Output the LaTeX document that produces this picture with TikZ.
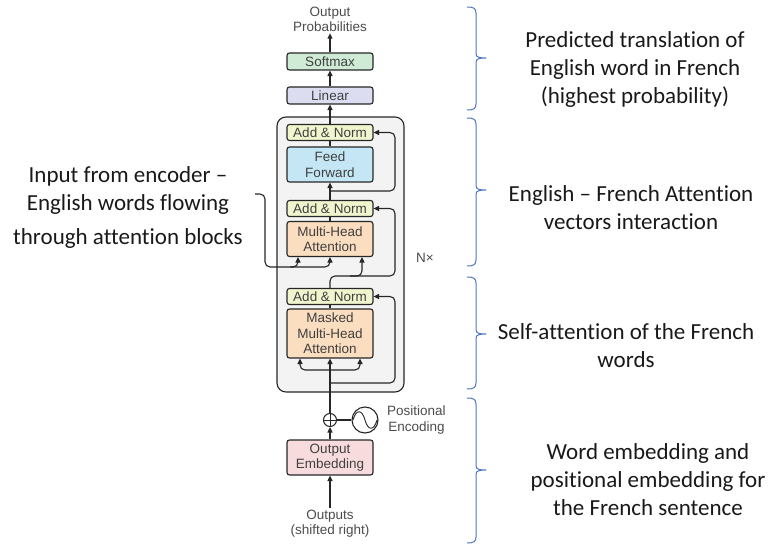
\documentclass[tikz,border=0pt]{standalone}
\usepackage{fontspec}
\setmainfont{Carlito}[Ligatures=NoCommon]
\newfontfamily\helv{Liberation Sans}
\usetikzlibrary{arrows.meta,calc}
\definecolor{smgreen}{HTML}{CFEBD6}
\definecolor{linlav}{HTML}{DCDDF1}
\definecolor{anyellow}{HTML}{F1F5CE}
\definecolor{ffblue}{HTML}{C5E6F5}
\definecolor{mhaorange}{HTML}{FBDDBF}
\definecolor{embpink}{HTML}{F8DCDD}
\definecolor{stackgray}{HTML}{F3F3F3}
\definecolor{braceblue}{HTML}{4A76C0}
\newcommand{\dfont}{\helv\fontsize{13.5}{15.5}\selectfont}
\newcommand{\nfont}{\fontsize{23}{28}\selectfont}

\begin{document}
\begin{tikzpicture}[x=1pt,y=-1pt,
  blk/.style={draw=black!85, line width=1.1pt, rounded corners=2.5pt,
    minimum width=86pt, inner sep=0pt, align=center, font=\dfont, text=black!75},
  arr/.style={-{Triangle[length=5.5pt,width=5pt]}, line width=1.1pt, draw=black!85},
  ln/.style={line width=1.1pt, draw=black!85},
  lbl/.style={font=\dfont, text=black!70, align=center, inner sep=1pt},
  note/.style={font=\nfont, align=center, text=black!90, inner sep=0pt},
  brc/.style={draw=braceblue, line width=1pt}]
\useasboundingbox (0,0) rectangle (768,548);

% repeated decoder stack
\node (stack) [draw=black!85, line width=1.1pt, rounded corners=9pt, fill=stackgray,
  minimum width=127pt, minimum height=275pt, inner sep=0pt] at (340.5,254.5) {};

% blocks
\node (softmax) [blk, fill=smgreen, minimum height=17pt] at (330,61.5) {Softmax};
\node (linear) [blk, fill=linlav, minimum height=17pt] at (330,95.5) {Linear};
\node (an3) [blk, fill=anyellow, minimum height=16pt] at (330,132.5) {Add \& Norm};
\node (ff) [blk, fill=ffblue, minimum height=35pt] at (330,164.5) {Feed\\Forward};
\node (an2) [blk, fill=anyellow, minimum height=16pt] at (330,208.5) {Add \& Norm};
\node (mha) [blk, fill=mhaorange, minimum height=35pt] at (330,239) {Multi-Head\\Attention};
\node (an1) [blk, fill=anyellow, minimum height=16pt] at (330,296.5) {Add \& Norm};
\node (mmha) [blk, fill=mhaorange, minimum height=49pt] at (330,333.5) {Masked\\Multi-Head\\Attention};
\node (emb) [blk, fill=embpink, minimum height=35pt] at (330,457.5) {Output\\Embedding};

% positional encoding
\node (plus) [draw=black!85, line width=1pt, circle, minimum size=13pt, inner sep=0pt] at (330,420) {};
\draw[ln, line width=0.9pt] (plus.north) -- (plus.south) (plus.west) -- (plus.east);
\node (wave) [draw=black!85, line width=1.1pt, circle, minimum size=26pt, inner sep=0pt] at (365,420) {};
\draw[ln, line width=0.9pt] (353,420) .. controls (356,409) and (362,409) .. (365,420)
  .. controls (368,431) and (374,431) .. (377,420);

% labels
\node (probs) [lbl] at (330,19.5) {Output\\Probabilities};
\node (posenc) [lbl, anchor=west] at (386,420) {Positional\\Encoding};
\node (outs) [lbl] at (330,523.5) {Outputs\\(shifted right)};
\node (nx) [lbl, anchor=west] at (415,258) {N×};

% main flow
\draw[arr] (outs.north) -- (emb.south);
\draw[arr] (emb.north) -- (plus.south);
\draw[ln] (plus.east) -- (wave.west);
\draw[arr] (plus.north) -- (mmha.south);
\draw[ln] (mmha.north) -- (an1.south);
\draw[ln] (mha.north) -- (an2.south);
\draw[arr] (an2.north) -- (ff.south);
\draw[ln] (ff.north) -- (an3.south);
\draw[arr] (an3.north) -- (linear.south);
\draw[arr] (linear.north) -- (softmax.south);
\draw[arr] (softmax.north) -- (probs.south);

% masked attention inputs and residual
\coordinate (mq) at (330,370);
\draw[arr, rounded corners=5pt] (mq) -- (300,370) -- ($(mmha.south)+(-30,0)$);
\draw[arr, rounded corners=5pt] (mq) -- (360,370) -- ($(mmha.south)+(30,0)$);
\coordinate (r1) at (330,383);
\draw[arr, rounded corners=5pt] (r1) -- (395,383) -- (395,296.5) -- (an1.east);

% cross attention: decoder query and residual
\draw[arr, rounded corners=5pt] (an1.north) -- (330,276) -- (362,276) -- ($(mha.south)+(32,0)$);
\draw[arr, rounded corners=5pt] (350,276) -- (395,276) -- (395,208.5) -- (an2.east);

% cross attention: encoder keys and values
\coordinate (enc) at (255,194);
\draw[arr, rounded corners=5pt] (enc) -- (265,194) -- (265,267) -- (298,267) -- ($(mha.south)+(-32,0)$);
\draw[arr, rounded corners=5pt] (290,267) -- (330,267) -- (mha.south);

% feed-forward residual
\coordinate (r3) at (330,191);
\draw[arr, rounded corners=5pt] (r3) -- (395,191) -- (395,132.5) -- (an3.east);

% braces
\foreach \t/\m/\b in {7/58/110, 118/190/266, 277/334/389, 398/470/543} {
  \draw[brc] (467,\t) .. controls (473,\t) and (476,\t+1) .. (476,\t+6)
    -- (476,\m-4) .. controls (476,\m-1) and (479,\m) .. (486,\m)
    .. controls (479,\m) and (476,\m+1) .. (476,\m+4)
    -- (476,\b-6) .. controls (476,\b-1) and (473,\b) .. (467,\b);
}

% notes
\node (n1) [note] at (635,69) {Predicted translation of\\English word in French\\(highest probability)};
\node (n2) [note] at (631,208) {English – French Attention\\vectors interaction};
\node (n3) [note] at (626,346) {Self-attention of the French\\words};
\node (n4) [note] at (648,480) {Word embedding and\\positional embedding for\\the French sentence};
\node (n0) [note] at (128,207.5) {Input from encoder –\\English words flowing\\[6pt]through attention blocks};
\end{tikzpicture}
\end{document}
